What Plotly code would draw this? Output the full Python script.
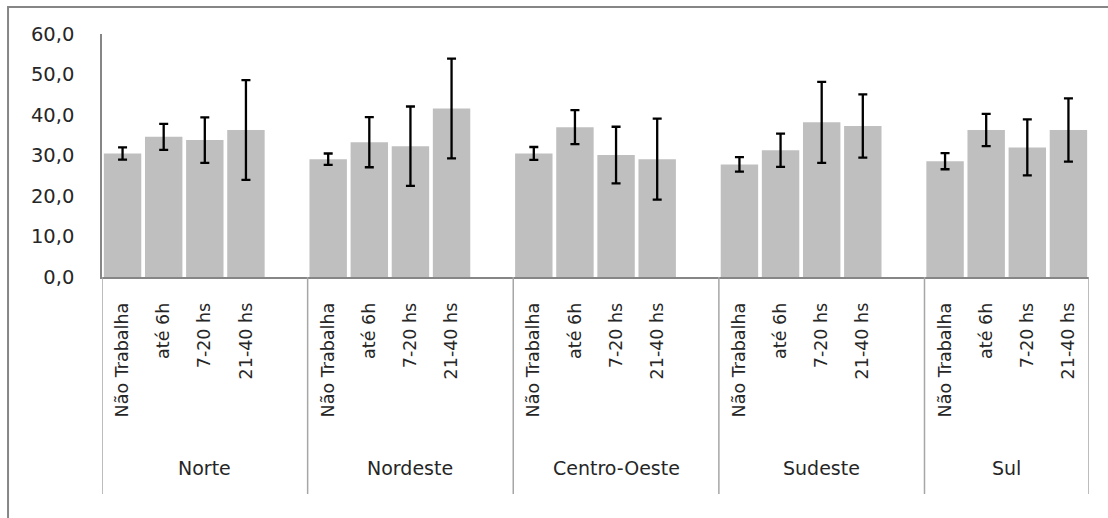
import plotly.graph_objects as go

# Regions and weekly working-hours groups
regions = ["Norte", "Nordeste", "Centro-Oeste", "Sudeste", "Sul"]
hours = ["Não Trabalha", "até 6h", "7-20 hs", "21-40 hs"]

# Mean value per region (one entry per hours group)
norte = [30.5, 34.6, 33.8, 36.3]
nordeste = [29.1, 33.3, 32.3, 41.6]
centro_oeste = [30.5, 37.0, 30.1, 29.1]
sudeste = [27.8, 31.3, 38.2, 37.3]
sul = [28.6, 36.3, 32.0, 36.3]

# Half-width of the interval for each mean
norte_err = [1.5, 3.2, 5.6, 12.3]
nordeste_err = [1.4, 6.2, 9.8, 12.3]
centro_oeste_err = [1.6, 4.2, 7.0, 10.0]
sudeste_err = [1.8, 4.1, 10.0, 7.8]
sul_err = [2.0, 4.0, 6.9, 7.8]

y_ticks = [0, 10, 20, 30, 40, 50, 60]

values = [norte, nordeste, centro_oeste, sudeste, sul]
errors = [norte_err, nordeste_err, centro_oeste_err, sudeste_err, sul_err]

# Each region occupies one slot per hours group plus an empty slot between regions
slots_per_region = len(hours) + 1
xs, ys, es, labels = [], [], [], []
for g, (vals, errs) in enumerate(zip(values, errors)):
    for i, (v, e) in enumerate(zip(vals, errs)):
        xs.append(g * slots_per_region + i)
        ys.append(v)
        es.append(e)
        labels.append(hours[i])

n_slots = slots_per_region * len(regions) - 1
x_min, x_max = -0.5, n_slots - 0.5

FONT = "DejaVu Sans"
TEXT = "#262626"
AXIS = "#868686"
DIV = "#a6a6a6"

fig = go.Figure(
    go.Bar(
        x=xs,
        y=ys,
        width=0.91,
        marker=dict(color="#bfbfbf", line=dict(width=0)),
        error_y=dict(type="data", array=es, visible=True,
                     color="black", thickness=2.3, width=4.5),
        hoverinfo="skip",
    )
)

# Group dividers below the category axis and region names
div_bottom = -0.893
shapes = []
bounds = [g * slots_per_region - 0.5 for g in range(len(regions))] + [x_max]
for b in bounds:
    shapes.append(dict(type="line", xref="x", yref="paper",
                       x0=b, x1=b, y0=0, y1=div_bottom,
                       line=dict(color=DIV, width=1.5)))

annotations = []
for g, name in enumerate(regions):
    left = bounds[g]
    right = bounds[g + 1]
    annotations.append(dict(x=(left + right) / 2, y=-0.786, xref="x", yref="paper",
                            text=name, showarrow=False,
                            font=dict(family=FONT, size=19, color=TEXT),
                            xanchor="center", yanchor="middle"))

# Outer chart border
shapes.append(dict(type="rect", xref="paper", yref="paper",
                   x0=-0.0952, x1=1.06, y0=-1.3, y1=1.111,
                   line=dict(color=AXIS, width=2), layer="below"))

fig.update_layout(
    width=1108,
    height=518,
    margin=dict(l=102, r=19, t=34, b=241),
    paper_bgcolor="white",
    plot_bgcolor="white",
    separators=",.",
    showlegend=False,
    shapes=shapes,
    annotations=annotations,
    xaxis=dict(
        range=[x_min, x_max],
        tickmode="array",
        tickvals=xs,
        ticktext=labels,
        tickangle=-90,
        ticks="",
        showgrid=False,
        zeroline=False,
        showline=True,
        linecolor=AXIS,
        linewidth=1.5,
        ticklabelstandoff=17,
        tickfont=dict(family=FONT, size=17.5, color=TEXT),
        fixedrange=True,
    ),
    yaxis=dict(
        range=[0, 60],
        tickmode="array",
        tickvals=y_ticks,
        tickformat=".1f",
        ticks="",
        showgrid=False,
        zeroline=False,
        showline=True,
        linecolor=AXIS,
        linewidth=1.5,
        ticklabelstandoff=22,
        tickfont=dict(family=FONT, size=19.5, color=TEXT),
        fixedrange=True,
    ),
)

fig.write_html("out.html")
